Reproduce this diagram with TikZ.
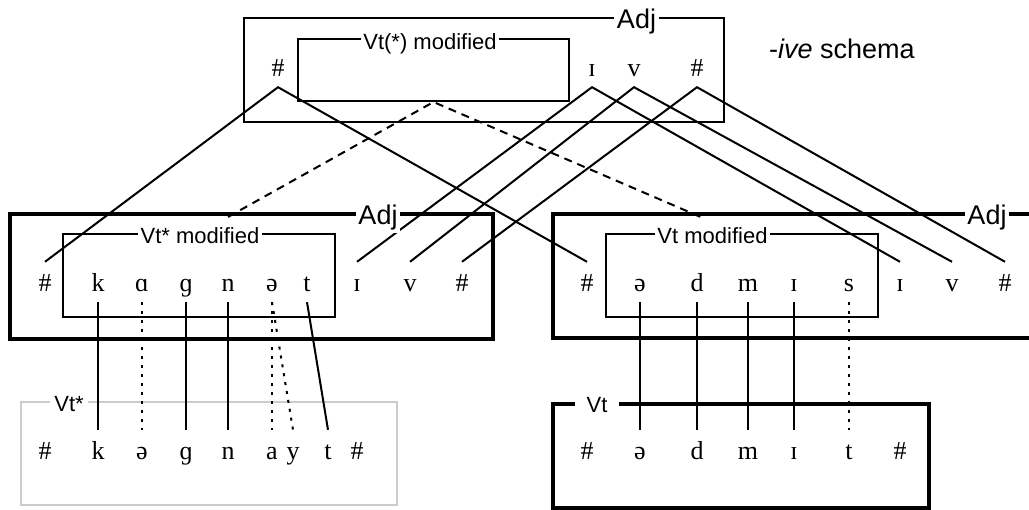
\documentclass[tikz,border=0pt]{standalone}
\usepackage{fontspec}
\setmainfont{Liberation Serif}
\setsansfont{Liberation Sans}
\tikzset{
  seg/.style={inner sep=0pt, anchor=base, text height=30pt, text depth=10pt,
    font=\fontsize{26}{26}\selectfont},
  box/.style={draw, line width=2pt, inner sep=0pt},
  thickbox/.style={box, line width=4.5pt},
  boxlab/.style={fill=white, inner sep=2.5pt, anchor=base,
    font=\sffamily\fontsize{22}{22}\selectfont},
  adjlab/.style={boxlab, font=\sffamily\fontsize{27}{27}\selectfont},
  link/.style={line width=2pt},
  dotlink/.style={line width=2pt, dash pattern=on 3pt off 6pt},
  dashlink/.style={line width=2pt, dash pattern=on 8pt off 6pt}
}
\begin{document}
\begin{tikzpicture}[x=1pt, y=-1pt]
  \clip (0,0) rectangle (1029,510);
  % Boxes
  \node[box, minimum width=480pt, minimum height=104pt] (adjtop) at (484,70) {};
  \node[box, minimum width=271pt, minimum height=62pt] (modtop) at (433.5,70) {};
  \node[thickbox, minimum width=483pt, minimum height=125pt] (adjleft) at (251.5,276.5) {};
  \node[box, minimum width=272pt, minimum height=83pt] (modleft) at (199,275.5) {};
  \node[thickbox, minimum width=492pt, minimum height=124pt] (adjright) at (799,276) {};
  \node[box, minimum width=272pt, minimum height=83pt] (modright) at (742,275.5) {};
  \node[box, draw=black!20, minimum width=376pt, minimum height=103pt] (vtstar) at (209,453.5) {};
  \node[box, line width=4pt, minimum width=376pt, minimum height=104pt] (vt) at (741,456) {};
  % Segments: schema, modified forms, base forms
  \foreach \n/\x/\s in {tl/278/\#, ti/592/ɪ, tv/634/v, tr/697/\#}
    \node[seg] (\n) at (\x,77) {\s};
  \foreach \n/\x/\s in {ml/45/\#, mk/98/k, ma/142/ɑ, mg/186/ɡ, mn/228/n, me/272/ə,
      mt/307/t, mi/357/ɪ, mv/410/v, mr/462/\#,
      rl/587/\#, re/640/ə, rd/697/d, rm/748/m, ri/794/ɪ, rs/849/s,
      rii/900/ɪ, rv/952/v, rr/1005/\#}
    \node[seg] (\n) at (\x,292) {\s};
  \foreach \n/\x/\s in {bl/45/\#, bk/98/k, be/142/ə, bg/186/ɡ, bn/228/n, ba/272/a,
      by/293/y, bt/328/t, br/357/\#,
      cl/587/\#, ce/640/ə, cd/697/d, cm/748/m, ci/794/ɪ, ct/849/t, cr/900/\#}
    \node[seg] (\n) at (\x,460) {\s};
  % Schema links
  \foreach \a/\t/\b in {ml/tl/rl, mi/ti/rii, mv/tv/rv, mr/tr/rr}
    \draw[link] (\a.north) -- (\t.south) -- (\b.north);
  \coordinate (dl) at (228,217);
  \coordinate (dr) at (703,218);
  \draw[dashlink] (dl) -- (modtop.south) -- (dr);
  % Correspondences
  \foreach \a/\b in {mk/bk, mg/bg, mn/bn, mt/bt, re/ce, rd/cd, rm/cm, ri/ci}
    \draw[link] (\a.south) -- (\b.north);
  \foreach \a/\b in {ma/be, me/ba, me/by, rs/ct}
    \draw[dotlink] (\a.south) -- (\b.north);
  % Box labels
  \node[adjlab] (lt) at (636.5,29) {Adj};
  \node[boxlab] (lmt) at (430,50) {Vt(*) modified};
  \node[adjlab] (ll) at (378,225) {Adj};
  \node[boxlab] (lml) at (200,244) {Vt* modified};
  \node[adjlab] (lr) at (987,225) {Adj};
  \node[boxlab] (lmr) at (712.5,244) {Vt modified};
  \node[boxlab, inner xsep=4pt] (lvs) at (69,412) {Vt*};
  \node[boxlab, inner xsep=12pt] (lv) at (597,413) {Vt};
  \node[anchor=base west, inner sep=0pt, font=\sffamily\fontsize{27}{27}\selectfont]
    (schema) at (769,59) {-\textit{ive} schema};
\end{tikzpicture}
\end{document}
